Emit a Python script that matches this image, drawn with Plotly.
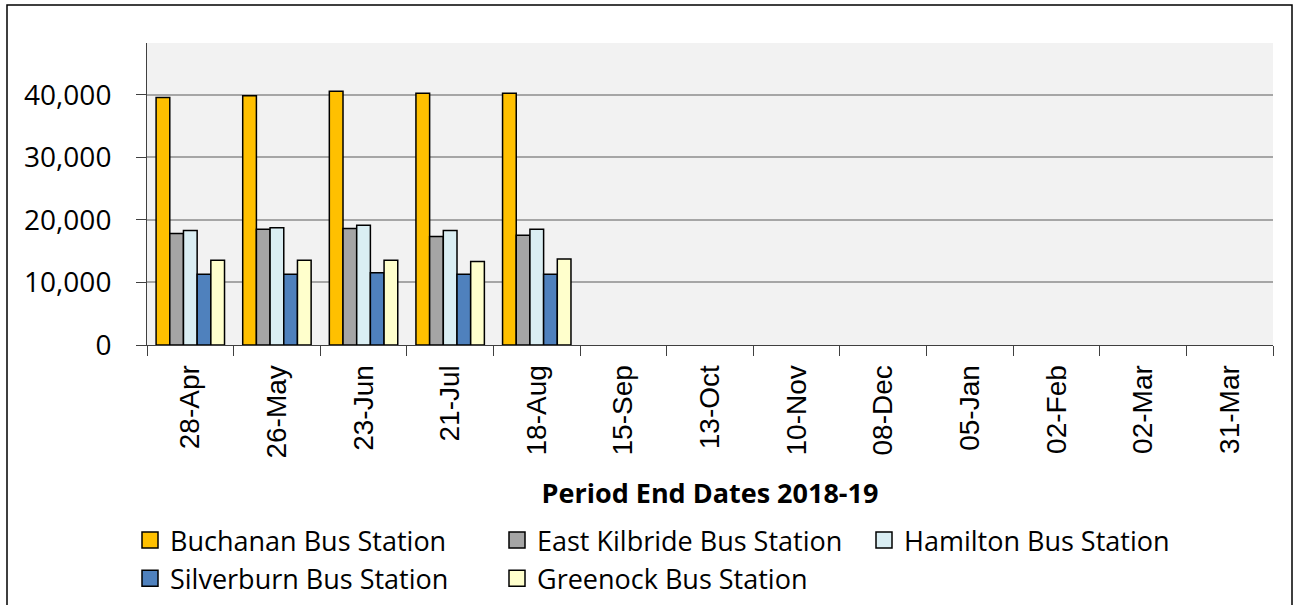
import plotly.graph_objects as go

categories = ["28-Apr", "26-May", "23-Jun", "21-Jul", "18-Aug", "15-Sep", "13-Oct",
              "10-Nov", "08-Dec", "05-Jan", "02-Feb", "02-Mar", "31-Mar"]
buchanan = [39600, 39850, 40600, 40250, 40250]
east_kilbride = [17850, 18500, 18650, 17350, 17550]
hamilton = [18300, 18750, 19150, 18300, 18500]
silverburn = [11300, 11300, 11550, 11300, 11300]
greenock = [13550, 13550, 13550, 13350, 13750]

series = [
    ("Buchanan Bus Station", buchanan, "#FFC000"),
    ("East Kilbride Bus Station", east_kilbride, "#A5A5A5"),
    ("Hamilton Bus Station", hamilton, "#DAEEF3"),
    ("Silverburn Bus Station", silverburn, "#4F81BD"),
    ("Greenock Bus Station", greenock, "#FFFFCC"),
]

FONT = "Open Sans"
TICKFONT = "Liberation Sans"

fig = go.Figure()
for name, vals, color in series:
    y = list(vals) + [None] * (len(categories) - len(vals))
    fig.add_trace(go.Bar(
        x=categories, y=y, name=name, showlegend=False,
        marker=dict(color=color, line=dict(color="#000000", width=1.5)),
    ))
# legend entries with larger square swatches
for name, vals, color in series:
    fig.add_trace(go.Scatter(
        x=[None], y=[None], mode="markers", name=name, showlegend=True,
        marker=dict(symbol="square", size=17, color=color,
                    line=dict(color="#000000", width=1.5)),
    ))

W, H = 1297, 605
L, R, T, B = 147, 24, 43, 260
pw = W - L - R
ph = H - T - B

fig.update_layout(
    width=W, height=H,
    margin=dict(l=L, r=R, t=T, b=B, autoexpand=False),
    paper_bgcolor="white",
    plot_bgcolor="#F2F2F2",
    barmode="group",
    bargap=0.21,
    bargroupgap=0,
    font=dict(family=FONT, size=26, color="#000000"),
    showlegend=True,
    legend=dict(
        orientation="h",
        x=(130 - L) / pw, xanchor="left",
        y=-(516 - (T + ph)) / ph, yanchor="top",
        entrywidthmode="pixels", entrywidth=322,
        font=dict(family=FONT, size=27, color="#000000"),
        bgcolor="rgba(0,0,0,0)",
        traceorder="normal",
        itemsizing="trace",
        tracegroupgap=0,
    ),
    xaxis=dict(
        type="category",
        automargin=False,
        tickangle=-90,
        tickson="boundaries",
        ticks="outside", ticklen=10, tickcolor="#404040",
        ticklabelstandoff=8,
        showline=True, linecolor="#404040", linewidth=1,
        showgrid=False,
        tickfont=dict(family=TICKFONT, size=28, color="#000000"),
        title=dict(text="<b>Period End Dates 2018-19</b>",
                   font=dict(family=FONT, size=27, color="#000000"), standoff=26),
    ),
    yaxis=dict(
        automargin=False,
        range=[0, 48300],
        tickvals=[0, 10000, 20000, 30000, 40000],
        tickformat=",d",
        ticks="outside", ticklen=10, tickcolor="#404040",
        ticklabelstandoff=19,
        showline=True, linecolor="#404040", linewidth=1,
        showgrid=True, gridcolor="#A6A6A6", gridwidth=1.5,
        zeroline=False,
        tickfont=dict(family=FONT, size=28, color="#000000"),
    ),
    shapes=[dict(
        type="rect", xref="paper", yref="paper",
        x0=(7 - L) / pw, x1=(1292 - L) / pw,
        y0=-(620 - (T + ph)) / ph, y1=((T + ph) - 5) / ph,
        line=dict(color="#000000", width=1.5), fillcolor="rgba(0,0,0,0)",
        layer="below",
    )],
)

fig.write_html("out.html")
